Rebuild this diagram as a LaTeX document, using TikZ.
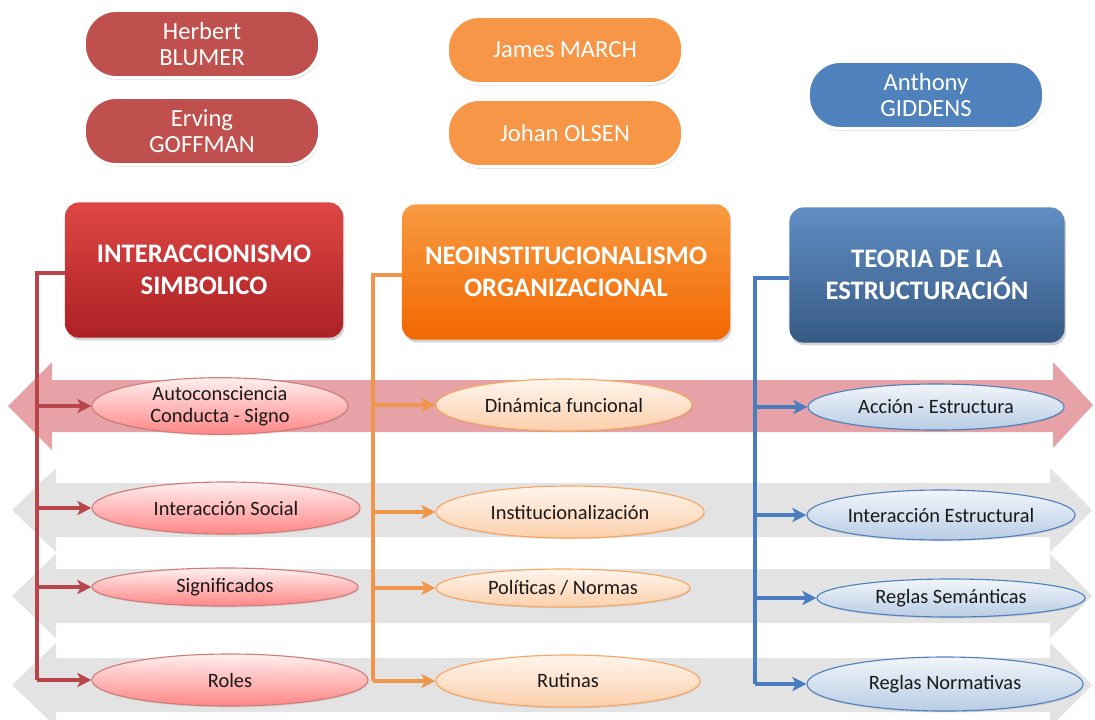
\documentclass[tikz,border=0pt]{standalone}
\usepackage{fontspec}
\setmainfont{Carlito}
\usetikzlibrary{arrows.meta,shapes.geometric,shadows}
\definecolor{simbcolor}{HTML}{C0504D}
\definecolor{neocolor}{HTML}{F79646}
\definecolor{teocolor}{HTML}{4F81BD}
\definecolor{simbline}{HTML}{B8454A}
\definecolor{neoline}{HTML}{F0964A}
\definecolor{teoline}{HTML}{4A7CC0}
\definecolor{pinkband}{HTML}{E6A2A6}
\definecolor{grayband}{HTML}{E3E3E3}
\definecolor{simbtop}{RGB}{222,72,70}
\definecolor{simbbot}{RGB}{172,32,36}

\begin{document}
\begin{tikzpicture}[x=0.025cm,y=-0.025cm,
    pill/.style={rounded corners=0.8cm,draw=white,line width=2pt,text=white,
      minimum width=5.875cm,minimum height=1.675cm,align=center,
      font=\fontsize{17.5}{19}\selectfont,
      drop shadow={opacity=0.3,shadow xshift=0.6pt,shadow yshift=-1.5pt}},
    head/.style={rounded corners=0.35cm,minimum height=3.38cm,text=white,align=center,
      font=\bfseries\fontsize{19}{23}\selectfont,
      drop shadow={opacity=0.35,shadow xshift=1pt,shadow yshift=-2pt}},
    leaf/.style={ellipse,inner sep=0pt,minimum height=1.3cm,align=center,line width=0.8pt,
      font=\fontsize{14.5}{16}\selectfont,text=black!90,
      drop shadow={opacity=0.2,shadow xshift=0.5pt,shadow yshift=-1pt}},
    simbleaf/.style={leaf,draw=simbcolor!75,top color=red!6,bottom color=red!30!pink},
    neoleaf/.style={leaf,draw=neocolor!85,top color=neocolor!10,bottom color=neocolor!45},
    teoleaf/.style={leaf,draw=teocolor,top color=teocolor!8,bottom color=teocolor!40},
    link/.style={line width=2.8pt},
    arr/.style={link,-{Stealth[length=10pt,width=10pt,inset=2.5pt]}},
  ]
    \useasboundingbox (0,0) rectangle (1095,719);

    % bands
    \fill[pinkband] (8,406) -- (52,362) -- (52,380) -- (1053,380) -- (1053,362) -- (1093,405)
      -- (1053,448) -- (1053,432) -- (52,432) -- (52,450) -- cycle;
    \foreach \yc in {510,596,685}
      \fill[grayband] (12,\yc) -- (56,\yc-42) -- (56,\yc-27) -- (1050,\yc-27) -- (1050,\yc-42)
        -- (1092,\yc) -- (1050,\yc+42) -- (1050,\yc+27) -- (56,\yc+27) -- (56,\yc+42) -- cycle;

    % authors
    \node[pill,fill=simbcolor] (blumer) at (202,44) {Herbert\\BLUMER};
    \node[pill,fill=simbcolor] (goffman) at (202,131) {Erving\\GOFFMAN};
    \node[pill,fill=neocolor] (march) at (565,50) {James MARCH};
    \node[pill,fill=neocolor] (olsen) at (565,133) {Johan OLSEN};
    \node[pill,fill=teocolor] (giddens) at (926,95) {Anthony\\GIDDENS};

    % theories
    \node[head,minimum width=6.95cm,top color=simbtop,bottom color=simbbot] (simb) at (204,270) {INTERACCIONISMO\\SIMBOLICO};
    \node[head,minimum width=8.2cm,top color=neocolor!95!yellow,bottom color=orange!85!red!95!black] (neo) at (566,272) {NEOINSTITUCIONALISMO\\ORGANIZACIONAL};
    \node[head,minimum width=6.875cm,top color=teocolor!90!white,bottom color=teocolor!70!black] (teo) at (927,275) {TEORIA DE LA\\ESTRUCTURACIÓN};

    % concepts
    \node[simbleaf,minimum width=6.4cm] (autoc) at (220,406) {Autoconsciencia\\Conducta - Signo};
    \node[simbleaf,minimum width=6.7cm] (isoc) at (226,508) {Interacción Social};
    \node[simbleaf,minimum width=6.65cm,minimum height=0.95cm] (signif) at (225,587) {Significados};
    \node[simbleaf,minimum width=6.9cm] (roles) at (230,680) {Roles};

    \node[neoleaf,minimum width=6.4cm] (dinam) at (564,405) {Dinámica funcional};
    \node[neoleaf,minimum width=6.7cm] (instit) at (570,512) {Institucionalización};
    \node[neoleaf,minimum width=6.35cm,minimum height=0.95cm] (polit) at (563,588) {Políticas / Normas};
    \node[neoleaf,minimum width=6.6cm] (rutin) at (568,681) {Rutinas};

    \node[teoleaf,minimum width=6.4cm,minimum height=1.15cm] (accion) at (936,407) {Acción - Estructura};
    \node[teoleaf,minimum width=6.7cm,minimum height=1.25cm] (iestr) at (941,515) {Interacción Estructural};
    \node[teoleaf,minimum width=6.7cm,minimum height=0.95cm] (rsem) at (951,598) {Reglas Semánticas};
    \node[teoleaf,minimum width=6.9cm,minimum height=1.35cm] (rnorm) at (945,684) {Reglas Normativas};

    % connectors
    \coordinate (rtop) at (37,273);
    \coordinate (otop) at (373,275);
    \coordinate (btop) at (755,278);
    \draw[link,simbline] (simb.west |- rtop) -- (rtop) -- (rtop |- roles.west);
    \draw[link,neoline] (neo.west |- otop) -- (otop) -- (otop |- rutin.west);
    \draw[link,teoline] (teo.west |- btop) -- (btop) -- (btop |- rnorm.west);
    \foreach \n in {autoc,isoc,signif,roles}
      \draw[arr,simbline] (rtop |- \n.west) -- (\n.west);
    \foreach \n in {dinam,instit,polit,rutin}
      \draw[arr,neoline] (otop |- \n.west) -- (\n.west);
    \foreach \n in {accion,iestr,rsem,rnorm}
      \draw[arr,teoline] (btop |- \n.west) -- (\n.west);
\end{tikzpicture}
\end{document}
